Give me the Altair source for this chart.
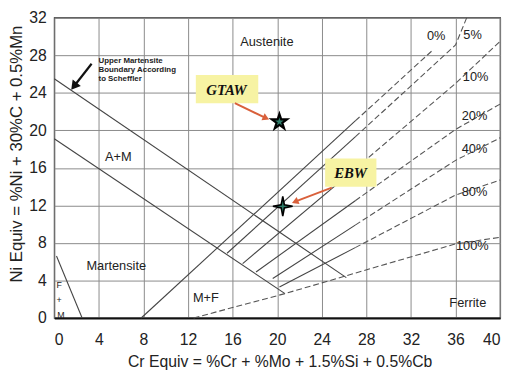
import altair as alt
import pandas as pd

x_ticks = list(range(0, 41, 4))
y_ticks = list(range(0, 33, 4))

# solid boundary / iso-ferrite segments (id, x, y)
solid_id = ["um", "um", "am", "am", "mc", "mc",
            "f0", "f0", "f5", "f5", "f10", "f10", "f20", "f20", "f40", "f40", "f80", "f80"]
solid_x = [0, 26.2, 0, 20.7, 0.2, 2.5,
           7.8, 27, 15.5, 27, 16.9, 27, 18.1, 27, 19.6, 27, 20.2, 27]
solid_y = [25.5, 4.3, 19.1, 2.6, 6.6, 0,
           0, 21, 6.9, 19.3, 5.8, 15.9, 4.9, 12.5, 4.2, 9.9, 3.3, 7.5]

# dashed continuations
dash_id = ["d0", "d0", "d5", "d5", "d5", "d10", "d10", "d10", "d20", "d20", "d20",
           "d40", "d40", "d40", "d80", "d80", "d80", "d100", "d100", "d100", "d100"]
dash_x = [27, 34, 27, 36, 37, 27, 36, 40, 27, 36, 40,
          27, 36, 40, 27, 36, 40, 12.5, 20.7, 36, 40]
dash_y = [21, 28.6, 19.3, 29.1, 32, 15.9, 25, 29.5, 12.5, 20.1, 22.8,
          9.9, 16.8, 19.2, 7.5, 13.1, 14.7, 0, 2.6, 7.9, 8.6]

# region / iso-line labels
lab_text = ["Austenite", "A+M", "Martensite", "M+F", "Ferrite",
            "0%", "5%", "10%", "20%", "40%", "80%", "100%", "F", "+", "M"]
lab_x = [19.07, 5.74, 5.56, 13.6, 37.1, 34.26, 37.53, 37.8, 37.7, 37.7, 37.7, 37.5, 0.44, 0.44, 0.6]
lab_y = [29.38, 17.1, 5.56, 2.1, 1.57, 30.1, 30.2, 25.7, 21.5, 18.05, 13.4, 7.66, 3.5, 1.9, 0.3]
lab_size = [13, 13, 13, 13, 13, 13, 13, 13, 13, 13, 13, 13, 9, 9, 9]

note_lines = ["Upper Martensite", "Boundary According", "to Scheffler"]
note_x = [3.97, 3.97, 3.97]
note_y = [27.35, 26.4, 25.45]

# weld points
pt_name = ["GTAW", "EBW"]
pt_x = [20.2, 20.5]
pt_y = [20.9, 11.9]

# callout boxes
box_x1 = [12.7, 24.3]
box_x2 = [18.3, 28.9]
box_y1 = [22.9, 14.0]
box_y2 = [25.9, 17.0]
box_tx = [15.45, 26.58]
box_ty = [24.34, 15.42]

# arrows (start -> head)
arr_x1 = [16.2, 24.9, 3.35]
arr_y1 = [22.9, 13.9, 27.1]
arr_x2 = [19.0, 21.6, 1.77]
arr_y2 = [21.3, 12.4, 24.7]
arr_ang = [115, 248, 218]
arr_col = ["#d9603b", "#d9603b", "#111111"]
arr_w = [2, 2, 2.2]
arr_head = [60, 60, 110]

solid_df = pd.DataFrame({"id": solid_id, "x": solid_x, "y": solid_y})
solid_df["o"] = range(len(solid_df))
dash_df = pd.DataFrame({"id": dash_id, "x": dash_x, "y": dash_y})
dash_df["o"] = range(len(dash_df))
lab_df = pd.DataFrame({"t": lab_text, "x": lab_x, "y": lab_y, "s": lab_size})
note_df = pd.DataFrame({"t": note_lines, "x": note_x, "y": note_y})
box_df = pd.DataFrame({"t": pt_name, "x1": box_x1, "x2": box_x2, "y1": box_y1, "y2": box_y2,
                       "tx": box_tx, "ty": box_ty})
arr_df = pd.DataFrame({"x1": arr_x1, "y1": arr_y1, "x2": arr_x2, "y2": arr_y2,
                       "a": arr_ang, "c": arr_col, "w": arr_w, "h": arr_head})
pt_df = pd.DataFrame({"n": pt_name, "x": pt_x, "y": pt_y})

xs = alt.Scale(domain=[0, 40], nice=False)
ys = alt.Scale(domain=[0, 32], nice=False)
FONT = "Liberation Sans"

x_axis = alt.Axis(values=x_ticks, grid=True, ticks=False, labelPadding=14, labelFontSize=16,
                  labelFont=FONT, labelColor="#222", gridColor="#8a8a8a", gridWidth=1,
                  labelOverlap=False, domainColor="#111", domainWidth=2,
                  title="Cr Equiv = %Cr + %Mo + 1.5%Si + 0.5%Cb", titleFont=FONT,
                  titleFontSize=16, titleFontWeight="normal", titleColor="#222",
                  titleX=229, titleY=44, titleBaseline="middle", titleAlign="center")
y_axis = alt.Axis(values=y_ticks, grid=True, ticks=False, labelPadding=8, labelFontSize=16,
                  labelFont=FONT, labelColor="#222", gridColor="#8a8a8a", gridWidth=1,
                  labelOverlap=False, labelBound=False, domain=False,
                  title="Ni Equiv = %Ni + 30%C + 0.5%Mn", titleFont=FONT,
                  titleFontSize=17, titleFontWeight="normal", titleColor="#222",
                  titleAngle=-90, titleX=-38, titleY=138, titleBaseline="middle",
                  titleAlign="center")


def X(f):
    return alt.X(f, scale=xs, axis=x_axis)


def Y(f):
    return alt.Y(f, scale=ys, axis=y_axis)


base_solid = alt.Chart(solid_df).mark_line(color="#444", strokeWidth=1.1).encode(
    x=X("x:Q"), y=Y("y:Q"), detail="id:N", order="o:Q")

dashed = alt.Chart(dash_df).mark_line(color="#555", strokeWidth=1.1, strokeDash=[6, 3]).encode(
    x=X("x:Q"), y=Y("y:Q"), detail="id:N", order="o:Q")

labels = alt.Chart(lab_df).mark_text(font=FONT, color="#222").encode(
    x=X("x:Q"), y=Y("y:Q"), text="t:N",
    size=alt.Size("s:Q", scale=None, legend=None))

note = alt.Chart(note_df).mark_text(font=FONT, fontSize=8, fontWeight="bold", color="#222",
                                    align="left").encode(
    x=X("x:Q"), y=Y("y:Q"), text="t:N")

boxes = alt.Chart(box_df).mark_rect(color="#f7f3a3").encode(
    x=X("x1:Q"), x2="x2:Q", y=Y("y1:Q"), y2="y2:Q")
box_text = alt.Chart(box_df).mark_text(font="Liberation Serif", fontSize=15, fontWeight="bold",
                                       fontStyle="italic", color="#111").encode(
    x=X("tx:Q"), y=Y("ty:Q"), text="t:N")

arrows = alt.Chart(arr_df).mark_rule().encode(
    x=X("x1:Q"), y=Y("y1:Q"), x2="x2:Q", y2="y2:Q",
    color=alt.Color("c:N", scale=None), strokeWidth=alt.StrokeWidth("w:Q", scale=None))
heads = alt.Chart(arr_df).mark_point(shape="triangle-up", filled=True, opacity=1).encode(
    x=X("x2:Q"), y=Y("y2:Q"),
    angle=alt.Angle("a:Q", scale=None), color=alt.Color("c:N", scale=None),
    size=alt.Size("h:Q", scale=None))

star5 = ("M0,-1L0.224,-0.309L0.951,-0.309L0.363,0.118L0.588,0.809L0,0.382"
         "L-0.588,0.809L-0.363,0.118L-0.951,-0.309L-0.224,-0.309Z")
star4 = "M0,-1L0.16,-0.16L1,0L0.16,0.16L0,1L-0.16,0.16L-1,0L-0.16,-0.16Z"

gtaw = alt.Chart(pt_df[pt_df.n == "GTAW"]).mark_point(
    shape=star5, filled=True, fill="#2e7d6a", stroke="#000", strokeWidth=2.2, size=260,
    opacity=1).encode(x=X("x:Q"), y=Y("y:Q"))
ebw = alt.Chart(pt_df[pt_df.n == "EBW"]).mark_point(
    shape=star4, filled=True, fill="#2e7d6a", stroke="#000", strokeWidth=1.6, size=400,
    opacity=1).encode(x=X("x:Q"), y=Y("y:Q"))

chart = alt.layer(base_solid, dashed, labels, note, boxes, box_text, arrows, heads, gtaw, ebw
                  ).properties(
    width=453, height=305,
    autosize=alt.AutoSizeParams(type="none"),
    padding={"left": 47, "top": 7, "right": 9, "bottom": 55},
    background="white",
).configure_view(stroke="#222", strokeWidth=1.3)

chart.save("out.html", embed_options={"renderer": "svg", "actions": False})
